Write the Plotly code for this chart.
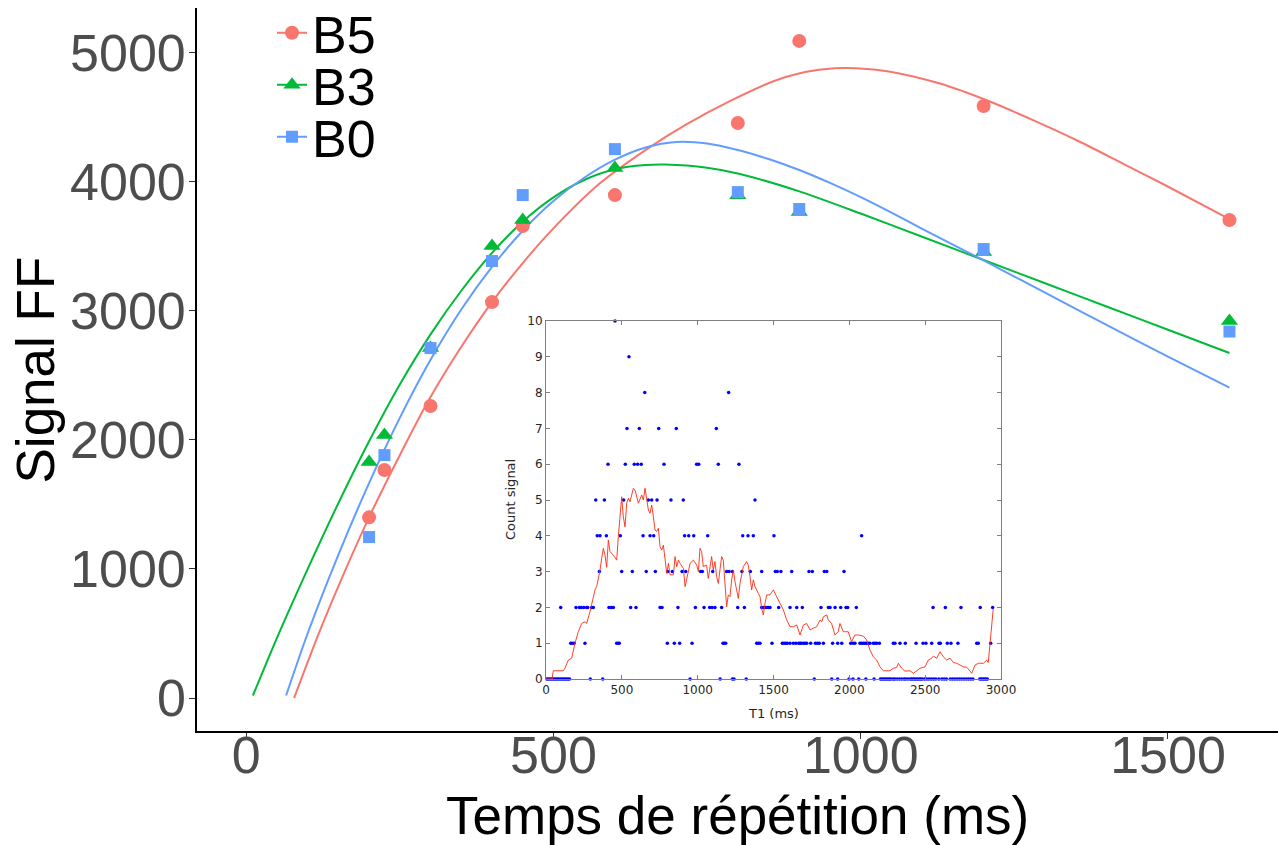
import plotly.graph_objects as go

# ---------------- main chart data ----------------
tr = [200, 225, 300, 400, 450, 600, 800, 900, 1200, 1600]
b5 = [1400, 1766, 2262, 3067, 3656, 3896, 4454, 5090, 4586, 3702]
b3 = [1828, 2037, 2711, 3501, 3703, 4105, 3895, 3765, 3455, 2920]
b0 = [1247, 1882, 2711, 3385, 3896, 4252, 3919, 3788, 3478, 2839]

fit_b5_x = [78, 120, 169, 200, 251, 299, 348, 400, 446, 495, 576, 657, 717, 787, 859, 901, 940,
            975, 1010, 1048, 1129, 1204, 1284, 1354, 1425, 1495, 1600]
fit_b5_y = [0, 522, 1074, 1400, 1891, 2324, 2706, 3067, 3346, 3613, 3989, 4268, 4446, 4624, 4780,
            4840, 4870, 4880, 4873, 4852, 4760, 4632, 4469, 4315, 4144, 3974, 3710]

fit_b3_x = [11, 50, 100, 150, 200, 250, 300, 350, 400, 450, 500, 550, 600, 650, 682, 750, 800,
            900, 1000, 1100, 1200, 1300, 1400, 1500, 1600]
fit_b3_y = [20, 465, 999, 1509, 1989, 2429, 2817, 3155, 3448, 3690, 3878, 4013, 4096, 4128, 4132,
            4108, 4063, 3925, 3753, 3573, 3393, 3213, 3033, 2853, 2673]

fit_b0_x = [65, 100, 150, 200, 250, 300, 350, 400, 450, 500, 550, 600, 650, 700, 750, 800, 850,
            900, 950, 1000, 1050, 1100, 1200, 1300, 1400, 1500, 1600]
fit_b0_y = [20, 500, 1110, 1665, 2170, 2620, 3010, 3340, 3620, 3850, 4030, 4170, 4265, 4307, 4295,
            4245, 4175, 4090, 3990, 3880, 3760, 3635, 3390, 3140, 2890, 2645, 2405]

series_names = ["B5", "B3", "B0"]
x_ticks = [0, 500, 1000, 1500]
y_ticks = [0, 1000, 2000, 3000, 4000, 5000]

# ---------------- inset data ----------------
lvl0 = [5, 15, 25, 35, 45, 55, 65, 75, 85, 95, 105, 115, 125, 135, 145, 155, 292, 374, 950,
        1148, 1229, 1240, 1320, 1769, 1884, 1923, 1998, 2024, 2062, 2109, 2163, 2205, 2215,
        2225, 2235, 2245, 2255, 2265, 2275, 2290, 2300, 2315, 2330, 2345, 2360, 2370, 2385,
        2400, 2410, 2420, 2430, 2440, 2450, 2460, 2470, 2480, 2495, 2510, 2525, 2540, 2555,
        2570, 2590, 2610, 2625, 2640, 2665, 2680, 2695, 2710, 2725, 2740, 2755, 2770, 2785,
        2800, 2815, 2860, 2870, 2880, 2890, 2900, 2910]
lvl1 = [163, 174, 185, 257, 466, 475, 483, 800, 846, 881, 963, 1167, 1176, 1185, 1389, 1400,
        1411, 1490, 1558, 1569, 1580, 1591, 1609, 1631, 1648, 1666, 1675, 1683, 1697, 1708,
        1719, 1745, 1776, 1789, 1802, 1829, 1890, 1923, 1950, 2009, 2026, 2037, 2070, 2081,
        2092, 2103, 2114, 2125, 2136, 2158, 2169, 2180, 2198, 2290, 2301, 2334, 2369, 2440,
        2486, 2505, 2543, 2591, 2600, 2646, 2670, 2716, 2840, 2850, 2932]
lvl2 = [97, 198, 220, 233, 249, 268, 275, 301, 312, 415, 429, 444, 558, 593, 752, 765, 870,
        985, 1042, 1079, 1095, 1114, 1158, 1264, 1308, 1422, 1433, 1444, 1455, 1466, 1477,
        1534, 1609, 1653, 1690, 1813, 1862, 1873, 1906, 1943, 1978, 1989, 2046, 2552, 2633,
        2736, 2863, 2945]
lvl3 = [352, 499, 569, 661, 721, 802, 833, 897, 921, 1020, 1031, 1099, 1191, 1207, 1229,
        1292, 1347, 1422, 1512, 1525, 1549, 1620, 1734, 1756, 1835, 1851, 1965]
lvl4 = [338, 356, 398, 490, 640, 686, 710, 914, 941, 974, 1066, 1297, 1332, 1367, 1503, 2081]
lvl5 = [328, 385, 512, 675, 697, 732, 824, 905, 1378]
lvl6 = [409, 523, 582, 604, 628, 778, 993, 1007, 1136, 1272]
lvl7 = [534, 615, 743, 859, 1123]
lvl8 = [651, 1204]
lvl9 = [547]
lvl10 = [455]
levels = [lvl0, lvl1, lvl2, lvl3, lvl4, lvl5, lvl6, lvl7, lvl8, lvl9, lvl10]

ma_x = [0, 40, 48, 114, 125, 147, 169, 191, 213, 235, 257, 268, 290, 312, 323, 334, 345, 356,
        367, 378, 389, 400, 411, 422, 444, 466, 477, 488, 499, 510, 521, 532, 543, 554, 576,
        587, 609, 631, 642, 653, 664, 675, 686, 697, 708, 719, 730, 741, 752, 763, 774, 785,
        796, 807, 818, 840, 851, 862, 873, 884, 906, 917, 928, 950, 972, 994, 1005, 1015,
        1026, 1037, 1059, 1070, 1092, 1103, 1114, 1125, 1136, 1147, 1158, 1169, 1180, 1191,
        1202, 1213, 1224, 1235, 1246, 1268, 1279, 1301, 1323, 1334, 1345, 1356, 1367, 1378,
        1400, 1411, 1422, 1433, 1444, 1455, 1477, 1499, 1510, 1521, 1543, 1565, 1587, 1609,
        1631, 1653, 1675, 1697, 1719, 1741, 1763, 1785, 1807, 1818, 1829, 1851, 1861, 1883,
        1905, 1927, 1938, 1960, 1993, 2015, 2037, 2059, 2092, 2114, 2136, 2158, 2180, 2202,
        2224, 2268, 2290, 2312, 2323, 2345, 2367, 2400, 2422, 2444, 2466, 2499, 2521, 2543,
        2554, 2576, 2598, 2620, 2642, 2664, 2686, 2708, 2730, 2752, 2774, 2796, 2807, 2829,
        2851, 2884, 2906, 2916, 2927, 2939, 2949]
ma_y = [0, 0, 0.23, 0.23, 0.30, 0.53, 0.58, 1.0, 1.32, 1.55, 1.60, 1.55, 1.88, 2.25, 2.49, 2.58,
        2.77, 3.04, 3.37, 3.65, 3.46, 3.12, 3.88, 3.56, 3.46, 3.32, 3.98, 4.63, 5.09, 4.53,
        4.25, 4.91, 5.05, 4.95, 5.33, 5.28, 4.91, 5.14, 5.0, 5.33, 5.0, 4.72, 4.63, 4.86,
        4.53, 4.16, 4.12, 4.21, 3.70, 3.60, 3.74, 3.32, 2.95, 3.23, 2.91, 2.91, 3.42, 3.14,
        3.32, 3.23, 3.09, 2.58, 2.81, 3.23, 3.32, 3.18, 3.0, 3.65, 3.56, 3.14, 3.18, 2.81,
        3.42, 3.04, 3.28, 2.86, 2.67, 3.14, 3.42, 3.32, 2.77, 2.02, 2.35, 2.30, 2.77, 3.04,
        2.72, 2.25, 2.67, 3.14, 3.28, 3.18, 2.86, 2.49, 2.77, 2.58, 2.39, 2.30, 1.97, 1.79,
        2.11, 2.35, 2.35, 2.49, 2.39, 2.30, 2.11, 1.93, 1.65, 1.46, 1.46, 1.51, 1.23, 1.51,
        1.55, 1.37, 1.42, 1.46, 1.65, 1.60, 1.74, 1.79, 1.65, 1.55, 1.23, 1.32, 1.55, 1.32,
        1.32, 1.04, 1.23, 1.23, 1.20, 1.09, 0.81, 0.62, 0.53, 0.34, 0.23, 0.23, 0.30, 0.32,
        0.44, 0.30, 0.22, 0.23, 0.16, 0.23, 0.30, 0.34, 0.53, 0.58, 0.64, 0.58, 0.76, 0.62,
        0.53, 0.58, 0.46, 0.44, 0.39, 0.34, 0.33, 0.20, 0.16, 0.39, 0.44, 0.44, 0.53, 0.46,
        0.95, 1.55, 1.97]
inset_x_ticks = [0, 500, 1000, 1500, 2000, 2500, 3000]
inset_y_ticks = list(range(0, 11))

# ---------------- styling ----------------
RED, GREEN, BLUE = "#F8766D", "#00BA38", "#619CFF"
FONT = "Liberation Sans, Arial, sans-serif"
INFONT = "DejaVu Sans, sans-serif"
W, H = 1278, 845
ML, MR, MT, MB = 197, 0, 8, 114
PW, PH = W - ML - MR, H - MT - MB


def px_x(p):
    return (p - ML) / PW


def px_y(p):
    return (H - MB - p) / PH


fig = go.Figure()

styles = [
    ("B5", b5, fit_b5_x, fit_b5_y, RED, "circle", 14, "legend"),
    ("B3", b3, fit_b3_x, fit_b3_y, GREEN, "triangle-up", 15, "legend2"),
    ("B0", b0, fit_b0_x, fit_b0_y, BLUE, "square", 12, "legend3"),
]

for name, vals, fx, fy, col, sym, sz, lg in styles:
    fig.add_trace(go.Scatter(x=fx, y=fy, mode="lines",
                             line=dict(color=col, width=2, shape="spline", smoothing=0.8),
                             showlegend=False, hoverinfo="skip"))
for name, vals, fx, fy, col, sym, sz, lg in styles:
    fig.add_trace(go.Scatter(x=tr, y=vals, mode="markers", marker=dict(color=col, symbol=sym, size=sz),
                             showlegend=False, name=name))
for name, vals, fx, fy, col, sym, sz, lg in styles:
    fig.add_trace(go.Scatter(x=[None], y=[None], mode="lines+markers", name=name,
                             marker=dict(color=col, symbol=sym, size=sz),
                             line=dict(color=col, width=2), showlegend=True, legend=lg))

# inset
dots_x, dots_y = [], []
for lv, arr in enumerate(levels):
    dots_x += arr
    dots_y += [lv] * len(arr)

fig.add_trace(go.Scatter(x=dots_x, y=dots_y, mode="markers", xaxis="x2", yaxis="y2",
                         marker=dict(color="#0000FF", size=3.5, line=dict(width=0)),
                         cliponaxis=False, showlegend=False))
fig.add_trace(go.Scatter(x=ma_x, y=ma_y, mode="lines", xaxis="x2", yaxis="y2",
                         line=dict(color="#FF2A10", width=0.9), showlegend=False))

main_axis = dict(showgrid=False, zeroline=False, showline=True, linecolor="black", linewidth=1.6,
                 ticks="outside", ticklen=6, tickwidth=1.2, tickcolor="#333333", automargin=False,
                 tickfont=dict(family=FONT, size=52, color="#4D4D4D"))

inset_axis = dict(showgrid=False, zeroline=False, showline=True, linecolor="#808080", linewidth=1,
                  mirror="ticks", ticks="inside", ticklen=4, tickwidth=1, tickcolor="#808080",
                  automargin=False, tickfont=dict(family=INFONT, size=12, color="#262626"))

legend_common = dict(xanchor="left", yanchor="middle", bgcolor="rgba(0,0,0,0)",
                     font=dict(family=FONT, size=52, color="black"), itemwidth=30)

LGX = px_x(272)
fig.update_layout(
    width=W, height=H,
    margin=dict(l=ML, r=MR, t=MT, b=MB, pad=0, autoexpand=False),
    paper_bgcolor="white", plot_bgcolor="white",
    xaxis=dict(range=[-80, 1679], tickvals=x_ticks, ticklabelstandoff=-28, **main_axis),
    yaxis=dict(range=[-255, 5345], tickvals=y_ticks, ticklabelstandoff=-7, **main_axis),
    xaxis2=dict(domain=[px_x(546), px_x(1001)], anchor="y2", range=[0, 3000], tickvals=inset_x_ticks, **inset_axis),
    yaxis2=dict(domain=[px_y(679), px_y(321)], anchor="x2", range=[0, 10], tickvals=inset_y_ticks, **inset_axis),
    legend=dict(x=LGX, y=px_y(33), **legend_common),
    legend2=dict(x=LGX, y=px_y(85), **legend_common),
    legend3=dict(x=LGX, y=px_y(137), **legend_common),
    annotations=[
        dict(text="Temps de répétition (ms)", xref="paper", yref="paper", x=0.5, y=px_y(815),
             xanchor="center", yanchor="middle", showarrow=False,
             font=dict(family=FONT, size=53, color="black")),
        dict(text="Signal FF", xref="paper", yref="paper", x=px_x(35), y=0.5, textangle=-90,
             xanchor="center", yanchor="middle", showarrow=False,
             font=dict(family=FONT, size=53, color="black")),
        dict(text="T1 (ms)", xref="paper", yref="paper", x=px_x(773), y=px_y(713),
             xanchor="center", yanchor="middle", showarrow=False,
             font=dict(family=INFONT, size=13, color="#262626")),
        dict(text="Count signal", xref="paper", yref="paper", x=px_x(510), y=px_y(500), textangle=-90,
             xanchor="center", yanchor="middle", showarrow=False,
             font=dict(family=INFONT, size=13, color="#262626")),
    ],
)

fig.write_html("out.html", config={"displayModeBar": False},
               post_script="document.body.style.margin='0';document.body.style.overflow='hidden';")
